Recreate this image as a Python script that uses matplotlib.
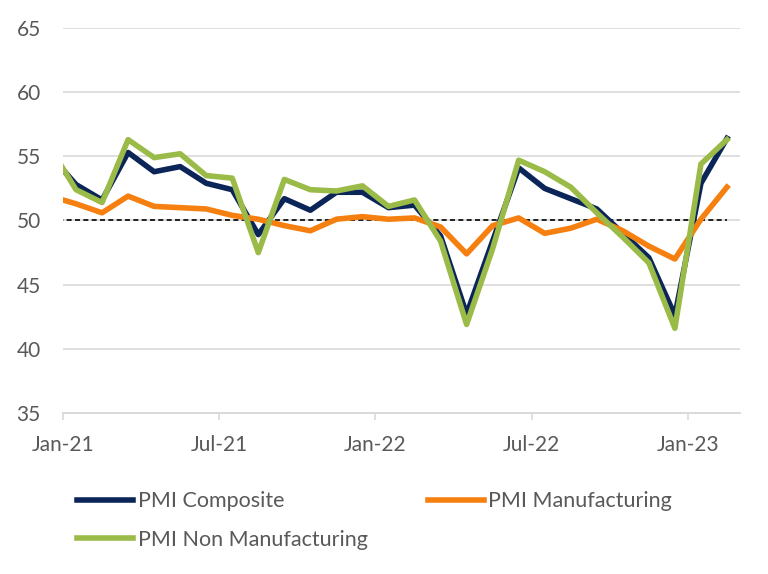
import numpy as np
import matplotlib

matplotlib.use("Agg")
import matplotlib.pyplot as plt

# monthly PMI readings, Dec-20 .. Feb-23 (Dec-20 sits left of the axis and gets clipped)
months = [
    "Dec-20", "Jan-21", "Feb-21", "Mar-21", "Apr-21", "May-21", "Jun-21",
    "Jul-21", "Aug-21", "Sep-21", "Oct-21", "Nov-21", "Dec-21", "Jan-22",
    "Feb-22", "Mar-22", "Apr-22", "May-22", "Jun-22", "Jul-22", "Aug-22",
    "Sep-22", "Oct-22", "Nov-22", "Dec-22", "Jan-23", "Feb-23",
]
composite = [
    55.1, 52.8, 51.6, 55.3, 53.8, 54.2, 52.9, 52.4, 48.9, 51.7, 50.8, 52.2,
    52.2, 51.0, 51.2, 48.8, 42.7, 48.4, 54.1, 52.5, 51.7, 50.9, 49.0, 47.1,
    42.6, 52.9, 56.4,
]
manufacturing = [
    51.9, 51.3, 50.6, 51.9, 51.1, 51.0, 50.9, 50.4, 50.1, 49.6, 49.2, 50.1,
    50.3, 50.1, 50.2, 49.5, 47.4, 49.6, 50.2, 49.0, 49.4, 50.1, 49.2, 48.0,
    47.0, 50.1, 52.6,
]
non_manufacturing = [
    55.7, 52.4, 51.4, 56.3, 54.9, 55.2, 53.5, 53.3, 47.5, 53.2, 52.4, 52.3,
    52.7, 51.1, 51.6, 48.4, 41.9, 47.8, 54.7, 53.8, 52.6, 50.6, 48.7, 46.7,
    41.6, 54.4, 56.3,
]
threshold = [50.0] * len(months)

tick_labels = ["Jan-21", "Jul-21", "Jan-22", "Jul-22", "Jan-23"]
y_ticks = [35, 40, 45, 50, 55, 60, 65]

NAVY = "#0b2559"
ORANGE = "#f5800f"
GREEN = "#9bbb48"
GRID = "#d9d9d9"
TEXT = "#595959"

plt.rcParams["font.family"] = ["Lato", "DejaVu Sans"]

# points sit mid-month; tick at 0 is the start of Jan-21
x = np.arange(len(months)) - 0.5

fig = plt.figure(figsize=(7.68, 5.74), dpi=100)
ax = fig.add_axes([63 / 768, 1 - 413 / 574, 677 / 768, 385 / 574])

ax.plot(x, threshold, color="black", lw=1.2, ls=(0, (3, 2)), zorder=2)
l1, = ax.plot(x, composite, color=NAVY, lw=4, solid_joinstyle="round",
              label="PMI Composite", zorder=3)
l2, = ax.plot(x, manufacturing, color=ORANGE, lw=4, solid_joinstyle="round",
              label="PMI Manufacturing", zorder=4)
l3, = ax.plot(x, non_manufacturing, color=GREEN, lw=4, solid_joinstyle="round",
              label="PMI Non Manufacturing", zorder=5)

ax.set_xlim(0, 26)
ax.set_ylim(35, 65)
ax.set_yticks(y_ticks)
ax.set_xticks([0, 6, 12, 18, 24])
ax.set_xticklabels(tick_labels)

ax.grid(axis="y", color=GRID, lw=1.2)
ax.set_axisbelow(True)
for side in ("left", "right", "top"):
    ax.spines[side].set_visible(False)
ax.spines["bottom"].set_color(GRID)
ax.spines["bottom"].set_linewidth(1.4)

ax.tick_params(axis="y", length=0, pad=16, labelsize=15, labelcolor=TEXT)
ax.tick_params(axis="x", length=5, width=1.2, color=GRID, pad=11,
               labelsize=15, labelcolor=TEXT)

fig.legend(
    [l1, l3, l2],
    ["PMI Composite", "PMI Non Manufacturing", "PMI Manufacturing"],
    loc="upper left",
    bbox_to_anchor=(58 / 768, 1 - 472 / 574),
    ncol=2,
    frameon=False,
    fontsize=15.5,
    labelcolor=TEXT,
    handlelength=2.6,
    handletextpad=0.2,
    columnspacing=2.8,
    labelspacing=0.85,
)

fig.savefig("out.png", dpi=100)
